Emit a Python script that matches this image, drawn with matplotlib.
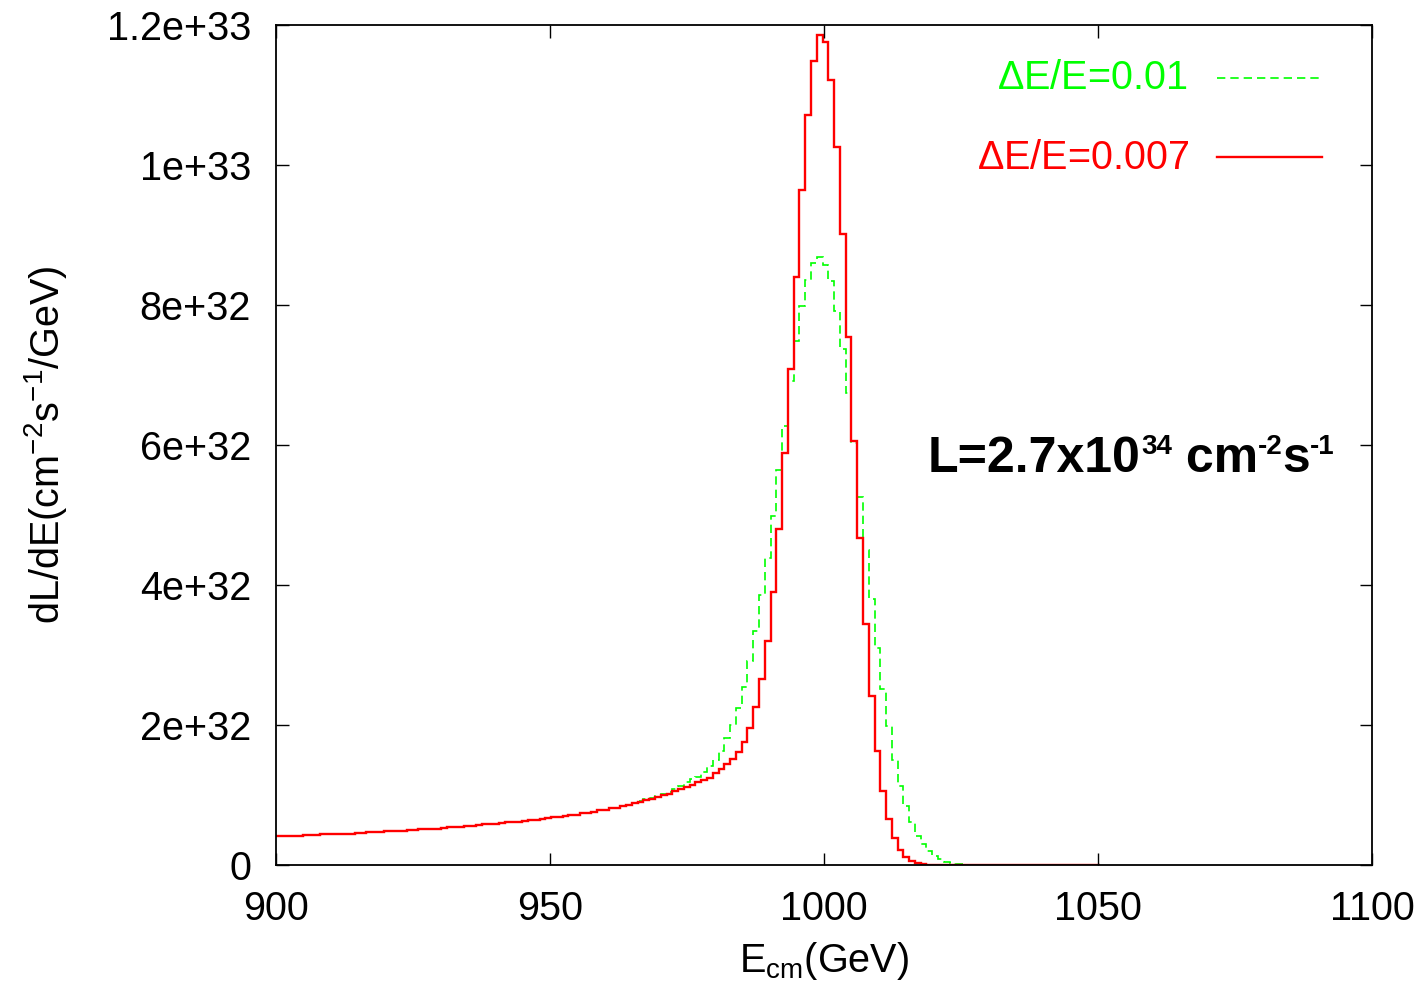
import numpy as np
import matplotlib
matplotlib.use('Agg')
import matplotlib.pyplot as plt
from matplotlib.transforms import IdentityTransform

plt.rcParams['font.family'] = ['Liberation Sans', 'DejaVu Sans']
plt.rcParams['mathtext.fontset'] = 'custom'
plt.rcParams['mathtext.rm'] = 'Liberation Sans'
plt.rcParams['mathtext.it'] = 'Liberation Sans'
plt.rcParams['mathtext.bf'] = 'Liberation Sans:bold'

# histogram binning (GeV)
bin_start = 899.6
bin_width = 1.054
n_bins = 143

# dL/dE in units of 1e33, low energy tail shared by both curves (bins 0..62)
tail = [0.041, 0.041, 0.042, 0.042, 0.042, 0.043, 0.043, 0.043, 0.044, 0.044,
        0.044, 0.045, 0.045, 0.045, 0.046, 0.046, 0.047, 0.047, 0.047, 0.048,
        0.048, 0.049, 0.049, 0.050, 0.050, 0.051, 0.051, 0.052, 0.052, 0.053,
        0.054, 0.054, 0.055, 0.056, 0.056, 0.057, 0.058, 0.058, 0.059, 0.060,
        0.061, 0.061, 0.062, 0.063, 0.064, 0.065, 0.066, 0.067, 0.068, 0.069,
        0.070, 0.071, 0.072, 0.074, 0.075, 0.076, 0.078, 0.079, 0.081, 0.082,
        0.084, 0.086, 0.088]

# dE/E = 0.007 (bins 63..113)
red_peak = [0.090, 0.093, 0.095, 0.097, 0.100, 0.102, 0.106, 0.109, 0.111, 0.114,
            0.118, 0.121, 0.125, 0.131, 0.137, 0.144, 0.152, 0.161, 0.176, 0.196,
            0.226, 0.266, 0.320, 0.390, 0.480, 0.588, 0.709, 0.840, 0.965, 1.072,
            1.149, 1.186, 1.176, 1.121, 1.026, 0.901, 0.755, 0.606, 0.467, 0.345,
            0.242, 0.163, 0.106, 0.066, 0.039, 0.022, 0.012, 0.006, 0.0024, 0.001,
            0.0004]

# dE/E = 0.01 (bins 63..121)
green_peak = [0.091, 0.094, 0.096, 0.099, 0.102, 0.105, 0.109, 0.113, 0.119, 0.123,
              0.126, 0.133, 0.142, 0.150, 0.163, 0.181, 0.200, 0.225, 0.255, 0.292,
              0.335, 0.386, 0.439, 0.498, 0.564, 0.627, 0.692, 0.748, 0.799, 0.836,
              0.860, 0.868, 0.857, 0.834, 0.792, 0.737, 0.674, 0.603, 0.526, 0.450,
              0.380, 0.310, 0.251, 0.198, 0.150, 0.113, 0.085, 0.062, 0.042, 0.030,
              0.020, 0.013, 0.008, 0.005, 0.003, 0.002, 0.001, 0.0005, 0.0002]

red = tail + red_peak
red = red + [0.0] * (n_bins - len(red))
green = tail + green_peak
green = green + [0.0] * (n_bins - len(green))

x_ticks = [900, 950, 1000, 1050, 1100]
y_ticks = [0, 2e32, 4e32, 6e32, 8e32, 1e33, 1.2e33]
y_labels = ['0', '2e+32', '4e+32', '6e+32', '8e+32', '1e+33', '1.2e+33']

edges = bin_start + bin_width * np.arange(n_bins + 1)

FS = 28.5

fig = plt.figure(figsize=(14.28, 9.89), dpi=100)
ax = fig.add_axes([276 / 1428, 1 - 865 / 989, 1096 / 1428, 840 / 989])

ax.stairs(np.array(green) * 1e33, edges, color='#00ff00', lw=1.2,
          linestyle=(0, (5, 3)), baseline=None)
ax.stairs(np.array(red) * 1e33, edges, color='#ff0000', lw=1.7, baseline=None)

ax.set_xlim(900, 1100)
ax.set_ylim(0, 1.2e33)
ax.set_xticks(x_ticks)
ax.set_xticklabels([str(t) for t in x_ticks])
ax.set_yticks(y_ticks)
ax.set_yticklabels(y_labels)
ax.tick_params(direction='in', length=9, width=1, top=True, right=True,
               labelsize=FS, color='black')
ax.tick_params(axis='x', pad=18)
ax.tick_params(axis='y', pad=18)
for s in ax.spines.values():
    s.set_linewidth(1.3)

ax.set_xlabel(r'E$_{\mathrm{cm}}$(GeV)', fontsize=FS, labelpad=9)
ax.set_ylabel(r'dL/dE(cm$^{-2}$s$^{-1}$/GeV)', fontsize=FS, labelpad=27)

# key, gnuplot style: right aligned text followed by the line sample
ax.text(0.832, 0.937, r'$\Delta$E/E=0.01', color='#00ff00', fontsize=FS,
        ha='right', va='center', transform=ax.transAxes)
ax.plot([0.8586, 0.9544], [0.937, 0.937], color='#00ff00', lw=1.2,
        linestyle=(0, (5, 3)), transform=ax.transAxes)
ax.text(0.834, 0.842, r'$\Delta$E/E=0.007', color='#ff0000', fontsize=FS,
        ha='right', va='center', transform=ax.transAxes)
ax.plot([0.8586, 0.9544], [0.843, 0.843], color='#ff0000', lw=1.7,
        transform=ax.transAxes)

# luminosity label, built piece by piece so superscripts sit like gnuplot's
renderer = fig.canvas.get_renderer()
x0, y0 = ax.transAxes.transform((0.595, 0.468))
pieces = [('L=2.7x10', 36, 0), ('34', 20, 18), (' cm', 36, 0),
          ('-2', 20, 18), ('s', 36, 0), ('-1', 20, 18)]
xpos = x0
for txt, size, rise in pieces:
    t = fig.text(xpos, y0 + rise, txt, fontsize=size, fontweight='bold',
                 ha='left', va='baseline', transform=IdentityTransform())
    xpos = t.get_window_extent(renderer).x1

fig.savefig('out.png', dpi=100)
